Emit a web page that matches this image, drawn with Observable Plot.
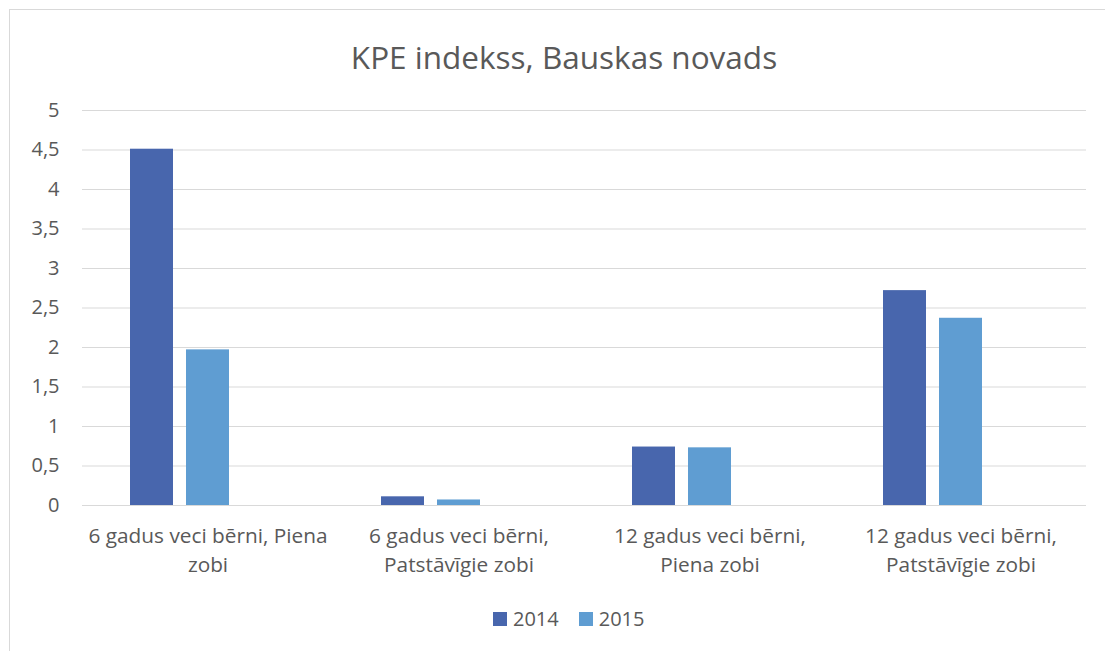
<!DOCTYPE html>
<html>
<head>
<meta charset="utf-8">
<script src="https://cdn.jsdelivr.net/npm/d3@7"></script>
<script src="https://cdn.jsdelivr.net/npm/@observablehq/plot@0.6"></script>
<style>
  html, body { margin: 0; padding: 0; background: #fff; }
  #page { position: relative; width: 1105px; height: 651px; overflow: hidden; font-family: "Open Sans", sans-serif; color: #595959; }
  #frame { position: absolute; left: 9px; top: 9px; width: 1200px; height: 800px; border-left: 1.5px solid #d9d9d9; border-top: 1.5px solid #d9d9d9; }
  #title { position: absolute; left: 0; top: 36px; width: 1128px; text-align: center; font-size: 31.5px; line-height: 42px; }
  #chart { position: absolute; left: 0; top: 90px; }
  #legend { position: absolute; left: 493px; top: 606px; display: flex; align-items: center; font-size: 20px; line-height: 26px; }
  .sw { display: inline-block; width: 14px; height: 14px; margin-right: 6px; }
  .item { display: flex; align-items: center; margin-right: 20px; }
</style>
</head>
<body>
<div id="page">
  <div id="frame"></div>
  <div id="title">KPE indekss, Bauskas novads</div>
  <div id="chart"></div>
  <div id="legend"></div>
</div>
<script>
const categories = [
  "6 gadus veci bērni, Piena zobi",
  "6 gadus veci bērni, Patstāvīgie zobi",
  "12 gadus veci bērni, Piena zobi",
  "12 gadus veci bērni, Patstāvīgie zobi"
];
const categoryLabels = [
  "6 gadus veci bērni, Piena\nzobi",
  "6 gadus veci bērni,\nPatstāvīgie zobi",
  "12 gadus veci bērni,\nPiena zobi",
  "12 gadus veci bērni,\nPatstāvīgie zobi"
];
const series = ["2014", "2015"];
const values2014 = [4.51, 0.11, 0.74, 2.72];
const values2015 = [1.97, 0.07, 0.73, 2.37];
const yTicks = [0, 0.5, 1, 1.5, 2, 2.5, 3, 3.5, 4, 4.5, 5];
const colors = ["#4866ad", "#5f9dd2"];

const data = [];
categories.forEach((c, i) => {
  data.push({category: c, series: series[0], value: values2014[i]});
  data.push({category: c, series: series[1], value: values2015[i]});
});

const fmt = d => String(d).replace(".", ",");
const labelOf = c => categoryLabels[categories.indexOf(c)];

const chart = Plot.plot({
  width: 1105,
  height: 495,
  marginLeft: 80,
  marginRight: 18,
  marginTop: 20,
  marginBottom: 80,
  style: {fontFamily: "Open Sans, sans-serif", color: "#595959", background: "transparent"},
  fx: {domain: categories, padding: 0, label: null},
  x: {domain: ["2014", "2015", "_"], paddingInner: 13 / 57, paddingOuter: 0.822, axis: null},
  y: {domain: [0, 5], label: null},
  color: {domain: series, range: colors},
  marks: [
    Plot.gridY(yTicks, {stroke: "#d9d9d9", strokeOpacity: 1, strokeWidth: 1.2}),
    Plot.barY(data, {fx: "category", x: "series", y: "value", fill: "series"}),
    Plot.axisY(yTicks, {tickSize: 0, tickPadding: 23, tickFormat: fmt, fontSize: 20, fill: "#595959", label: null}),
    Plot.axisFx({anchor: "bottom", tickSize: 0, tickPadding: 17, tickFormat: labelOf, fontSize: 20.8, lineHeight: 1.4, fill: "#595959", label: null})
  ]
});
document.getElementById("chart").appendChild(chart);

const legend = document.getElementById("legend");
series.forEach((s, i) => {
  const item = document.createElement("div");
  item.className = "item";
  const sw = document.createElement("span");
  sw.className = "sw";
  sw.style.background = colors[i];
  const t = document.createElement("span");
  t.textContent = s;
  item.appendChild(sw);
  item.appendChild(t);
  legend.appendChild(item);
});
</script>
</body>
</html>
